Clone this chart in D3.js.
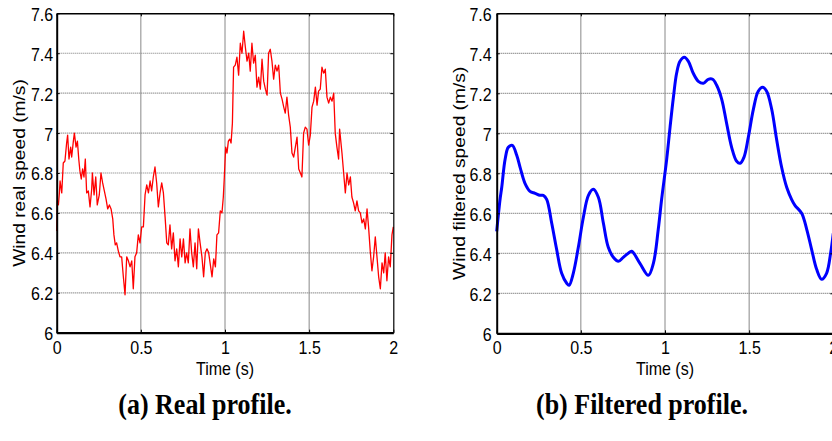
<!DOCTYPE html>
<html>
<head>
<meta charset="utf-8">
<script src="https://cdn.jsdelivr.net/npm/d3@7"></script>
<style>
  html, body { margin: 0; padding: 0; background: #fff; }
  svg { display: block; }
  .tick text { font-family: "Liberation Sans", Arial, sans-serif; font-size: 16px; fill: #000; }
</style>
</head>
<body>
<svg id="chart" width="832" height="441"></svg>
<script>
// ---------- data ----------
const xTicks = [0, 0.5, 1, 1.5, 2];
const xTickLabels = ["0", "0.5", "1", "1.5", "2"];
const yTicks = [6, 6.2, 6.4, 6.6, 6.8, 7, 7.2, 7.4, 7.6];
const yTickLabels = ["6", "6.2", "6.4", "6.6", "6.8", "7", "7.2", "7.4", "7.6"];

const realTime = [0.000,0.004,0.010,0.016,0.020,0.030,0.039,0.049,0.059,0.065,0.073,0.083,0.089,0.099,0.105,0.115,0.123,0.131,0.138,0.146,0.154,0.162,0.170,0.178,0.188,0.198,0.208,0.212,0.222,0.232,0.241,0.253,0.263,0.273,0.283,0.293,0.303,0.313,0.323,0.333,0.340,0.348,0.356,0.366,0.376,0.386,0.396,0.406,0.416,0.426,0.436,0.446,0.455,0.465,0.475,0.485,0.495,0.505,0.515,0.525,0.535,0.545,0.555,0.564,0.574,0.584,0.594,0.604,0.614,0.624,0.634,0.644,0.654,0.663,0.673,0.683,0.693,0.703,0.713,0.723,0.733,0.743,0.753,0.763,0.772,0.782,0.792,0.802,0.812,0.822,0.832,0.842,0.852,0.863,0.873,0.883,0.893,0.903,0.913,0.923,0.933,0.943,0.952,0.962,0.972,0.982,0.990,0.996,1.004,1.012,1.020,1.028,1.036,1.044,1.051,1.061,1.071,1.081,1.091,1.101,1.111,1.121,1.131,1.141,1.150,1.160,1.170,1.180,1.190,1.200,1.210,1.220,1.230,1.240,1.250,1.259,1.269,1.279,1.289,1.299,1.309,1.319,1.329,1.339,1.349,1.358,1.368,1.378,1.388,1.398,1.408,1.418,1.428,1.438,1.448,1.457,1.467,1.477,1.487,1.497,1.507,1.517,1.527,1.537,1.547,1.556,1.566,1.576,1.586,1.596,1.606,1.616,1.626,1.636,1.646,1.655,1.665,1.675,1.681,1.695,1.705,1.715,1.725,1.735,1.745,1.754,1.764,1.774,1.784,1.794,1.804,1.814,1.824,1.834,1.844,1.853,1.863,1.873,1.883,1.893,1.903,1.913,1.923,1.933,1.943,1.952,1.962,1.972,1.982,1.992,2.000];
const realSpeed = [6.51,6.66,6.64,6.70,6.76,6.70,6.85,6.86,6.95,6.99,6.87,6.93,6.88,6.96,7.00,6.93,6.96,6.87,6.81,6.77,6.82,6.78,6.87,6.70,6.71,6.63,6.72,6.80,6.69,6.78,6.64,6.69,6.80,6.75,6.71,6.67,6.62,6.64,6.62,6.57,6.49,6.44,6.45,6.41,6.38,6.38,6.28,6.19,6.38,6.36,6.33,6.36,6.22,6.38,6.40,6.49,6.45,6.53,6.53,6.69,6.74,6.70,6.76,6.71,6.78,6.83,6.75,6.63,6.70,6.75,6.70,6.58,6.45,6.44,6.54,6.42,6.50,6.36,6.42,6.33,6.47,6.38,6.47,6.35,6.40,6.35,6.52,6.40,6.33,6.45,6.32,6.52,6.45,6.38,6.28,6.40,6.42,6.40,6.34,6.28,6.37,6.33,6.49,6.50,6.61,6.60,6.68,6.78,6.93,6.90,6.96,6.97,6.95,7.05,7.33,7.34,7.38,7.29,7.45,7.40,7.51,7.43,7.36,7.40,7.31,7.45,7.35,7.39,7.23,7.28,7.22,7.37,7.26,7.22,7.19,7.40,7.42,7.36,7.27,7.34,7.31,7.34,7.20,7.17,7.13,7.10,7.18,7.09,7.03,6.90,6.88,6.93,6.98,6.82,6.80,6.78,7.00,7.03,7.02,6.94,6.99,7.13,7.16,7.23,7.14,7.21,7.22,7.33,7.30,7.32,7.18,7.15,7.18,7.16,7.20,7.00,6.93,6.87,7.02,6.90,6.80,6.70,6.80,6.74,6.78,6.68,6.65,6.61,6.66,6.61,6.60,6.55,6.57,6.52,6.62,6.53,6.41,6.31,6.38,6.48,6.38,6.28,6.22,6.35,6.30,6.40,6.26,6.38,6.33,6.49,6.53];

const filtTime = [0.000,0.020,0.030,0.050,0.069,0.093,0.119,0.139,0.168,0.198,0.228,0.257,0.277,0.297,0.327,0.356,0.386,0.416,0.430,0.455,0.485,0.515,0.545,0.574,0.604,0.634,0.663,0.693,0.723,0.752,0.782,0.802,0.851,0.901,0.931,0.960,0.980,1.010,1.030,1.050,1.069,1.089,1.115,1.139,1.168,1.198,1.228,1.257,1.283,1.307,1.337,1.366,1.396,1.426,1.446,1.469,1.495,1.525,1.554,1.580,1.604,1.634,1.663,1.693,1.723,1.752,1.772,1.812,1.842,1.871,1.901,1.931,1.960,1.984,2.000];
const filtSpeed = [6.51,6.67,6.73,6.87,6.93,6.94,6.89,6.83,6.75,6.71,6.70,6.69,6.69,6.67,6.55,6.42,6.30,6.25,6.24,6.30,6.43,6.58,6.69,6.72,6.68,6.55,6.43,6.38,6.36,6.38,6.40,6.41,6.35,6.29,6.35,6.52,6.67,6.87,7.03,7.18,7.30,7.36,7.38,7.36,7.30,7.26,7.25,7.27,7.27,7.24,7.17,7.05,6.93,6.86,6.85,6.88,6.98,7.12,7.21,7.23,7.21,7.12,6.97,6.83,6.73,6.67,6.64,6.60,6.52,6.42,6.32,6.27,6.30,6.40,6.50];

const panelA = { yLabel: "Wind real speed (m/s)", xLabel: "Time (s)", caption: "(a) Real profile." };
const panelB = { yLabel: "Wind filtered speed (m/s)", xLabel: "Time (s)", caption: "(b) Filtered profile." };

// ---------- drawing ----------
const svg = d3.select("#chart");
const STRETCH = 1.2;

function drawPanel(opt) {
  const x = d3.scaleLinear().domain([0, 2]).range([opt.left, opt.right]);
  const y = d3.scaleLinear().domain([6, 7.6]).range([opt.bottom, opt.top]);
  const g = svg.append("g");

  // grid
  g.append("g").selectAll("line").data(yTicks.slice(1, -1)).join("line")
    .attr("x1", opt.left).attr("x2", opt.right)
    .attr("y1", d => y(d)).attr("y2", d => y(d))
    .attr("stroke", "#777").attr("stroke-width", 1.2).attr("stroke-dasharray", "1,1");
  g.append("g").selectAll("line").data(xTicks.slice(1, -1)).join("line")
    .attr("y1", opt.top).attr("y2", opt.bottom)
    .attr("x1", d => x(d)).attr("x2", d => x(d))
    .attr("stroke", "#888").attr("stroke-width", 1);

  // data line
  const line = d3.line().x(d => x(d[0])).y(d => y(d[1])).curve(opt.curve);
  g.append("path").datum(opt.t.map((t, i) => [t, opt.v[i]]))
    .attr("d", line).attr("fill", "none")
    .attr("stroke", opt.color).attr("stroke-width", opt.width)
    .attr("stroke-linejoin", "round");

  // axes
  const fmtX = (d, i) => xTickLabels[i];
  const fmtY = (d, i) => yTickLabels[i];
  const ax = g.append("g").attr("transform", `translate(0,${opt.bottom})`)
    .call(d3.axisBottom(x).tickValues(xTicks).tickFormat(fmtX).tickSizeInner(-3).tickSizeOuter(0).tickPadding(0));
  ax.selectAll(".tick text").attr("y", 17.5).attr("dy", 0).attr("transform", `scale(1,${STRETCH})`);
  ax.select(".domain").attr("stroke-width", 2.2);

  const ay = g.append("g").attr("transform", `translate(${opt.left},0)`)
    .call(d3.axisLeft(y).tickValues(yTicks).tickFormat(fmtY).tickSizeInner(-3).tickSizeOuter(0).tickPadding(opt.pad));
  ay.selectAll(".tick text").attr("dy", "0.36em").attr("transform", `scale(1,${STRETCH})`);
  ay.select(".domain").attr("stroke-width", 2);

  const at = g.append("g").attr("transform", `translate(0,${opt.top})`)
    .call(d3.axisTop(x).tickValues(xTicks).tickFormat("").tickSizeInner(-3).tickSizeOuter(0));
  at.select(".domain").attr("stroke-width", 1.5);
  const ar = g.append("g").attr("transform", `translate(${opt.right},0)`)
    .call(d3.axisRight(y).tickValues(yTicks).tickFormat("").tickSizeInner(-3).tickSizeOuter(0));
  ar.select(".domain").attr("stroke-width", 1.2);
  g.selectAll(".tick line").attr("stroke", "#000");

  // labels
  g.append("text")
    .attr("transform", `translate(${(opt.left + opt.right) / 2},${opt.xLabelY}) scale(1,${STRETCH})`)
    .attr("text-anchor", "middle")
    .style("font-family", "'Liberation Sans', Arial, sans-serif").style("font-size", "16px")
    .text(opt.labels.xLabel);
  g.append("text")
    .attr("transform", `translate(${opt.yLabelX},${(opt.top + opt.bottom) / 2}) rotate(-90) scale(${STRETCH},1)`)
    .attr("text-anchor", "middle")
    .style("font-family", "'Liberation Sans', Arial, sans-serif").style("font-size", "16px")
    .text(opt.labels.yLabel);
  g.append("text")
    .attr("transform", `translate(${opt.captionX},414) scale(1,1.12)`)
    .attr("text-anchor", "middle")
    .style("font-family", "'Liberation Serif', 'Times New Roman', serif").style("font-size", "26px").style("font-weight", "bold")
    .text(opt.labels.caption);
}

drawPanel({ left: 56.7, right: 393.3, top: 13.3, bottom: 332.7, pad: 3.5,
  t: realTime, v: realSpeed, color: "#ff0000", width: 1.3, curve: d3.curveLinear,
  xLabelY: 375, yLabelX: 24.5, captionX: 205, labels: panelA });

drawPanel({ left: 496.7, right: 833.3, top: 13.3, bottom: 333.3, pad: 5,
  t: filtTime, v: filtSpeed, color: "#0000ff", width: 3, curve: d3.curveCatmullRom,
  xLabelY: 375, yLabelX: 465, captionX: 642, labels: panelB });
</script>
</body>
</html>
